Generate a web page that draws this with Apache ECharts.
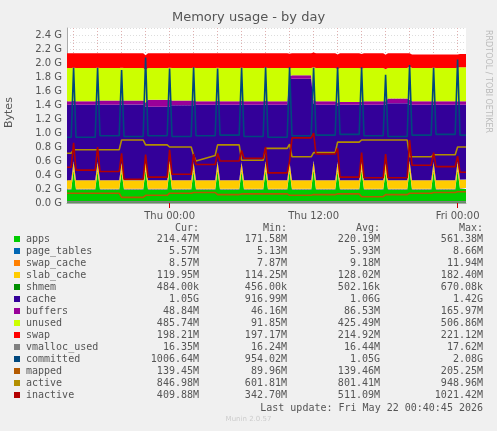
<!DOCTYPE html>
<html><head><meta charset="utf-8">
<script src="https://cdn.jsdelivr.net/npm/echarts@6/dist/echarts.min.js"></script>
<style>html,body{margin:0;padding:0;background:#F0F0F0}#c{width:497px;height:431px}</style>
</head><body><div id="c"></div>
<script>
// hours since Wed 00:00
const times = [15.45,15.8,16, 16.2,17.8,18, 18.2,19.8,20, 20.2,21.8,22, 22.2,23.8,24, 24.2,25.8,26, 26.2,27.8,28, 28.2,29.8,30, 30.2,31.8,32, 32.2,33.8,34, 34.2,35.8,36, 36.2,37.8,38, 38.2,39.8,40, 40.2,41.8,42, 42.2,43.8,44, 44.2,45.8,46, 46.2,47.8,48, 48.2,48.7];
// values in G
const apps = [0.19,0.19,0.46, 0.19,0.19,0.45, 0.19,0.19,0.44, 0.19,0.19,0.46, 0.19,0.19,0.47, 0.19,0.19,0.45, 0.19,0.19,0.46, 0.19,0.19,0.45, 0.19,0.19,0.46, 0.19,0.19,0.45, 0.19,0.19,0.47, 0.19,0.19,0.45, 0.19,0.19,0.46, 0.19,0.19,0.44, 0.19,0.19,0.47, 0.19,0.19,0.45, 0.19,0.19,0.46, 0.20,0.20];
const page_tables = [0.0055,0.0055,0.0060, 0.0055,0.0055,0.0060, 0.0055,0.0055,0.0060, 0.0055,0.0055,0.0060, 0.0055,0.0055,0.0060, 0.0055,0.0055,0.0060, 0.0055,0.0055,0.0060, 0.0055,0.0055,0.0060, 0.0055,0.0055,0.0060, 0.0055,0.0055,0.0060, 0.0055,0.0055,0.0060, 0.0055,0.0055,0.0060, 0.0055,0.0055,0.0060, 0.0055,0.0055,0.0060, 0.0055,0.0055,0.0060, 0.0055,0.0055,0.0060, 0.0055,0.0055,0.0060, 0.0055,0.0055];
const swap_cache = [0.009,0.009,0.009, 0.009,0.009,0.009, 0.009,0.009,0.009, 0.010,0.010,0.010, 0.010,0.010,0.010, 0.009,0.009,0.009, 0.009,0.009,0.009, 0.009,0.009,0.009, 0.009,0.009,0.009, 0.009,0.009,0.009, 0.009,0.009,0.009, 0.009,0.009,0.009, 0.008,0.008,0.008, 0.008,0.008,0.008, 0.008,0.008,0.008, 0.008,0.008,0.008, 0.008,0.008,0.008, 0.008,0.008];
const slab_cache = [0.12,0.12,0.12, 0.12,0.12,0.12, 0.12,0.12,0.12, 0.12,0.12,0.12, 0.12,0.12,0.12, 0.12,0.12,0.12, 0.12,0.12,0.12, 0.12,0.12,0.12, 0.12,0.12,0.12, 0.12,0.12,0.12, 0.12,0.12,0.12, 0.12,0.12,0.12, 0.12,0.12,0.12, 0.12,0.12,0.12, 0.12,0.12,0.12, 0.12,0.12,0.12, 0.12,0.12,0.12, 0.12,0.12];
const shmem = [0.0005,0.0005,0.0005, 0.0005,0.0005,0.0005, 0.0005,0.0005,0.0005, 0.0005,0.0005,0.0005, 0.0005,0.0005,0.0005, 0.0005,0.0005,0.0005, 0.0005,0.0005,0.0005, 0.0005,0.0005,0.0005, 0.0005,0.0005,0.0005, 0.0005,0.0005,0.0005, 0.0005,0.0005,0.0005, 0.0005,0.0005,0.0005, 0.0005,0.0005,0.0005, 0.0005,0.0005,0.0005, 0.0005,0.0005,0.0005, 0.0005,0.0005,0.0005, 0.0005,0.0005,0.0005, 0.0005,0.0005];
const cache = [1.08,1.08,0.81, 1.08,1.08,0.82, 1.08,1.08,0.83, 1.08,1.08,0.78, 1.05,1.05,0.77, 1.07,1.07,0.81, 1.08,1.08,0.81, 1.08,1.08,0.82, 1.08,1.08,0.81, 1.08,1.08,1.18, 1.45,1.45,0.81, 1.08,1.08,0.80, 1.08,1.08,0.81, 1.08,1.08,0.83, 1.10,1.10,0.80, 1.08,1.08,0.82, 1.08,1.08,0.81, 1.07,1.07];
const buffers = [0.05,0.05,0.05, 0.05,0.05,0.05, 0.06,0.06,0.06, 0.06,0.06,0.06, 0.10,0.10,0.10, 0.07,0.07,0.07, 0.05,0.05,0.05, 0.05,0.05,0.05, 0.05,0.05,0.05, 0.05,0.05,0.05, 0.05,0.05,0.05, 0.05,0.05,0.05, 0.04,0.04,0.04, 0.05,0.05,0.05, 0.07,0.07,0.07, 0.05,0.05,0.05, 0.05,0.05,0.05, 0.05,0.05];
const unused = [0.475,0.475,0.475, 0.475,0.475,0.475, 0.465,0.465,0.465, 0.464,0.464,0.464, 0.454,0.454,0.454, 0.465,0.465,0.465, 0.475,0.475,0.475, 0.475,0.475,0.475, 0.475,0.475,0.475, 0.475,0.475,0.105, 0.105,0.105,0.475, 0.475,0.475,0.475, 0.485,0.485,0.475, 0.475,0.475,0.455, 0.435,0.435,0.475, 0.476,0.476,0.476, 0.476,0.476,0.476, 0.486,0.486];
const swap = [0.21,0.21,0.21, 0.21,0.21,0.21, 0.21,0.21,0.21, 0.21,0.21,0.21, 0.21,0.21,0.21, 0.21,0.21,0.21, 0.21,0.21,0.21, 0.21,0.21,0.21, 0.21,0.21,0.21, 0.21,0.21,0.21, 0.21,0.21,0.21, 0.21,0.21,0.21, 0.21,0.21,0.21, 0.21,0.21,0.21, 0.21,0.21,0.19, 0.19,0.19,0.19, 0.19,0.19,0.19, 0.19,0.19];
const vmalloc_used = [0.016,0.016,0.016, 0.016,0.016,0.016, 0.016,0.016,0.016, 0.016,0.016,0.016, 0.016,0.016,0.016, 0.016,0.016,0.016, 0.016,0.016,0.016, 0.016,0.016,0.016, 0.016,0.016,0.016, 0.016,0.016,0.016, 0.016,0.016,0.016, 0.016,0.016,0.016, 0.016,0.016,0.016, 0.016,0.016,0.016, 0.016,0.016,0.016, 0.016,0.016,0.016, 0.016,0.016,0.016, 0.016,0.016];
const committed = [0.94,0.94,1.93, 0.94,0.94,1.93, 0.96,0.96,1.90, 0.95,0.95,2.08, 0.96,0.96,1.92, 0.95,0.95,1.94, 0.96,0.96,1.92, 0.97,0.97,1.93, 0.95,0.95,1.94, 0.94,0.94,1.94, 0.96,0.96,1.93, 0.97,0.97,1.94, 0.98,0.98,1.94, 0.96,0.96,1.83, 0.95,0.95,1.97, 0.97,0.97,1.93, 0.98,0.98,2.05, 0.97,0.97];
const mapped = [0.14,0.14,0.14, 0.14,0.14,0.14, 0.14,0.14,0.08, 0.08,0.08,0.11, 0.11,0.11,0.14, 0.14,0.14,0.15, 0.15,0.15,0.12, 0.12,0.12,0.13, 0.13,0.13,0.13, 0.13,0.13,0.11, 0.11,0.11,0.12, 0.12,0.12,0.13, 0.13,0.13,0.09, 0.09,0.09,0.12, 0.12,0.12,0.14, 0.14,0.14,0.15, 0.15,0.15,0.16, 0.16,0.16];
const active = [0.71,0.71,0.76, 0.76,0.76,0.76, 0.76,0.76,0.90, 0.90,0.90,0.83, 0.83,0.83,0.80, 0.80,0.80,0.68, 0.60,0.68,0.83, 0.83,0.83,0.61, 0.61,0.61,0.78, 0.78,0.78,0.84, 0.66,0.66,0.72, 0.72,0.72,0.87, 0.87,0.87,0.90, 0.90,0.90,0.90, 0.90,0.90,0.66, 0.66,0.66,0.69, 0.69,0.69,0.80, 0.80,0.80];
const inactive = [0.51,0.51,0.86, 0.47,0.47,0.80, 0.45,0.45,0.71, 0.34,0.34,0.69, 0.37,0.37,0.76, 0.41,0.41,0.70, 0.55,0.55,0.71, 0.60,0.60,0.75, 0.64,0.64,0.80, 0.43,0.43,0.60, 0.93,0.93,1.00, 0.70,0.70,0.78, 0.37,0.37,0.72, 0.36,0.36,0.70, 0.36,0.36,0.90, 0.54,0.54,0.72, 0.52,0.52,0.67, 0.44,0.44];
const dayNames = ['Sun','Mon','Tue','Wed','Thu','Fri','Sat'];
const gridHours = [16,18,20,22,24,26,28,30,32,34,36,38,40,42,44,46,48];
const legNames = ['apps','page_tables','swap_cache','slab_cache','shmem','cache','buffers','unused','swap','vmalloc_used','committed','mapped','active','inactive'];
const legColors = ['#00CC00','#0066B3','#FF8000','#FFCC00','#008F00','#330099','#990099','#CCFF00','#FF0000','#808080','#00487D','#B35A00','#B38F00','#B30000'];
const legCur = ['214.47M','5.57M','8.57M','119.95M','484.00k','1.05G','48.84M','485.74M','198.21M','16.35M','1006.64M','139.45M','846.98M','409.88M'];
const legMin = ['171.58M','5.13M','7.87M','114.25M','456.00k','916.99M','46.16M','91.85M','197.17M','16.24M','954.02M','89.96M','601.81M','342.70M'];
const legAvg = ['220.19M','5.93M','9.18M','128.02M','502.16k','1.06G','86.53M','425.49M','214.92M','16.44M','1.05G','139.46M','801.41M','511.09M'];
const legMax = ['561.38M','8.66M','11.94M','182.40M','670.08k','1.42G','165.97M','506.86M','221.12M','17.62M','2.08G','205.25M','948.96M','1021.42M'];

const W0 = Date.UTC(2026,4,20); // Wed May 20 2026 00:00 UTC
const ms = h => W0 + h*3600000;
const pad = n => (n<10?'0':'')+n;
const fmt = v => {const d=new Date(v);return dayNames[d.getUTCDay()]+' '+pad(d.getUTCHours())+':'+pad(d.getUTCMinutes());};
const areaData = [apps,page_tables,swap_cache,slab_cache,shmem,cache,buffers,unused,swap];
const lineData = [vmalloc_used,committed,mapped,active,inactive];
const pair = arr => times.map((t,i)=>[ms(t),arr[i]]);
const series = [];
areaData.forEach((d,i)=>series.push({name:legNames[i],type:'line',stack:'mem',data:pair(d),symbol:'none',
  lineStyle:{width:0},areaStyle:{color:legColors[i],opacity:1},itemStyle:{color:legColors[i]},z:2,silent:true}));
lineData.forEach((d,j)=>{const i=9+j;series.push({name:legNames[i],type:'line',data:pair(d),symbol:'none',
  lineStyle:{width:1.6,color:legColors[i]},z:3,silent:true});});
series.push({type:'line',data:[],z:1,silent:true,markLine:{z:1,silent:true,symbol:'none',
  lineStyle:{color:'#e0b0b0',type:[1,2],width:1},
  data:gridHours.map(h=>({xAxis:ms(h),label:{show:h===36,position:'start',distance:8,color:'#555',fontSize:10,fontFamily:'DejaVu Sans',formatter:()=>fmt(ms(h))}}))}});

const chart = echarts.init(document.getElementById('c'));
const mono = 'DejaVu Sans Mono';
const g = [];
g.push({type:'text',left:'center',top:11,style:{text:'Memory usage - by day',font:'13px "DejaVu Sans"',fill:'#555'}});
g.push({type:'text',x:4,y:128,rotation:Math.PI/2,style:{text:'Bytes',font:'11px "DejaVu Sans"',fill:'#555'}});
g.push({type:'text',x:492,y:30,rotation:-Math.PI/2,style:{text:'RRDTOOL / TOBI OETIKER',font:'8px "DejaVu Sans"',fill:'#bbb'}});
const hdrY=223;
[['Cur:',199],['Min:',287],['Avg:',380],['Max:',483]].forEach(([t,x])=>g.push({type:'text',x:x,y:hdrY,style:{text:t,font:'10px '+mono,fill:'#555',align:'right'}}));
legNames.forEach((n,i)=>{const y=235+i*12;
  g.push({type:'rect',shape:{x:14,y:y+1,width:6,height:6},style:{fill:legColors[i]}});
  g.push({type:'text',x:26,y:y-1,style:{text:n,font:'10px '+mono,fill:'#555'}});
  [[legCur,199],[legMin,287],[legAvg,380],[legMax,483]].forEach(([a,x])=>g.push({type:'text',x:x,y:y-1,style:{text:a[i],font:'10px '+mono,fill:'#555',align:'right'}}));
});
g.push({type:'text',x:483,y:403,style:{text:'Last update: Fri May 22 00:40:45 2026',font:'10px '+mono,fill:'#555',align:'right'}});
g.push({type:'text',left:'center',y:416,style:{text:'Munin 2.0.57',font:'7px "DejaVu Sans"',fill:'#ccc'}});

chart.setOption({
  useUTC:true,
  backgroundColor:'#F0F0F0',animation:false,
  grid:{left:67,right:31,top:28,bottom:228,show:true,backgroundColor:'#fff',borderWidth:0},
  xAxis:{type:'time',min:ms(15.45),max:ms(48.7),splitNumber:3,minInterval:12*3600000,maxInterval:12*3600000,
    axisLine:{show:true,lineStyle:{color:'#aaa'}},splitLine:{show:false},
    axisTick:{show:true,lineStyle:{color:'#c00'}},
    axisLabel:{color:'#555',fontSize:10,fontFamily:'DejaVu Sans',hideOverlap:false,formatter:fmt}},
  yAxis:{type:'value',min:0,max:2.5,interval:0.1,
    axisLine:{show:true,lineStyle:{color:'#aaa'}},axisTick:{show:false},
    splitLine:{show:true,lineStyle:{color:'#ddd',type:[1,2]}},
    axisLabel:{color:'#555',fontSize:10,fontFamily:'DejaVu Sans',margin:5,
      formatter:v=>{const t=Math.round(v*10);return (t%2===0&&t<25)?(t/10).toFixed(1)+' G':'';}}},
  series:series,graphic:g
});
</script></body></html>
